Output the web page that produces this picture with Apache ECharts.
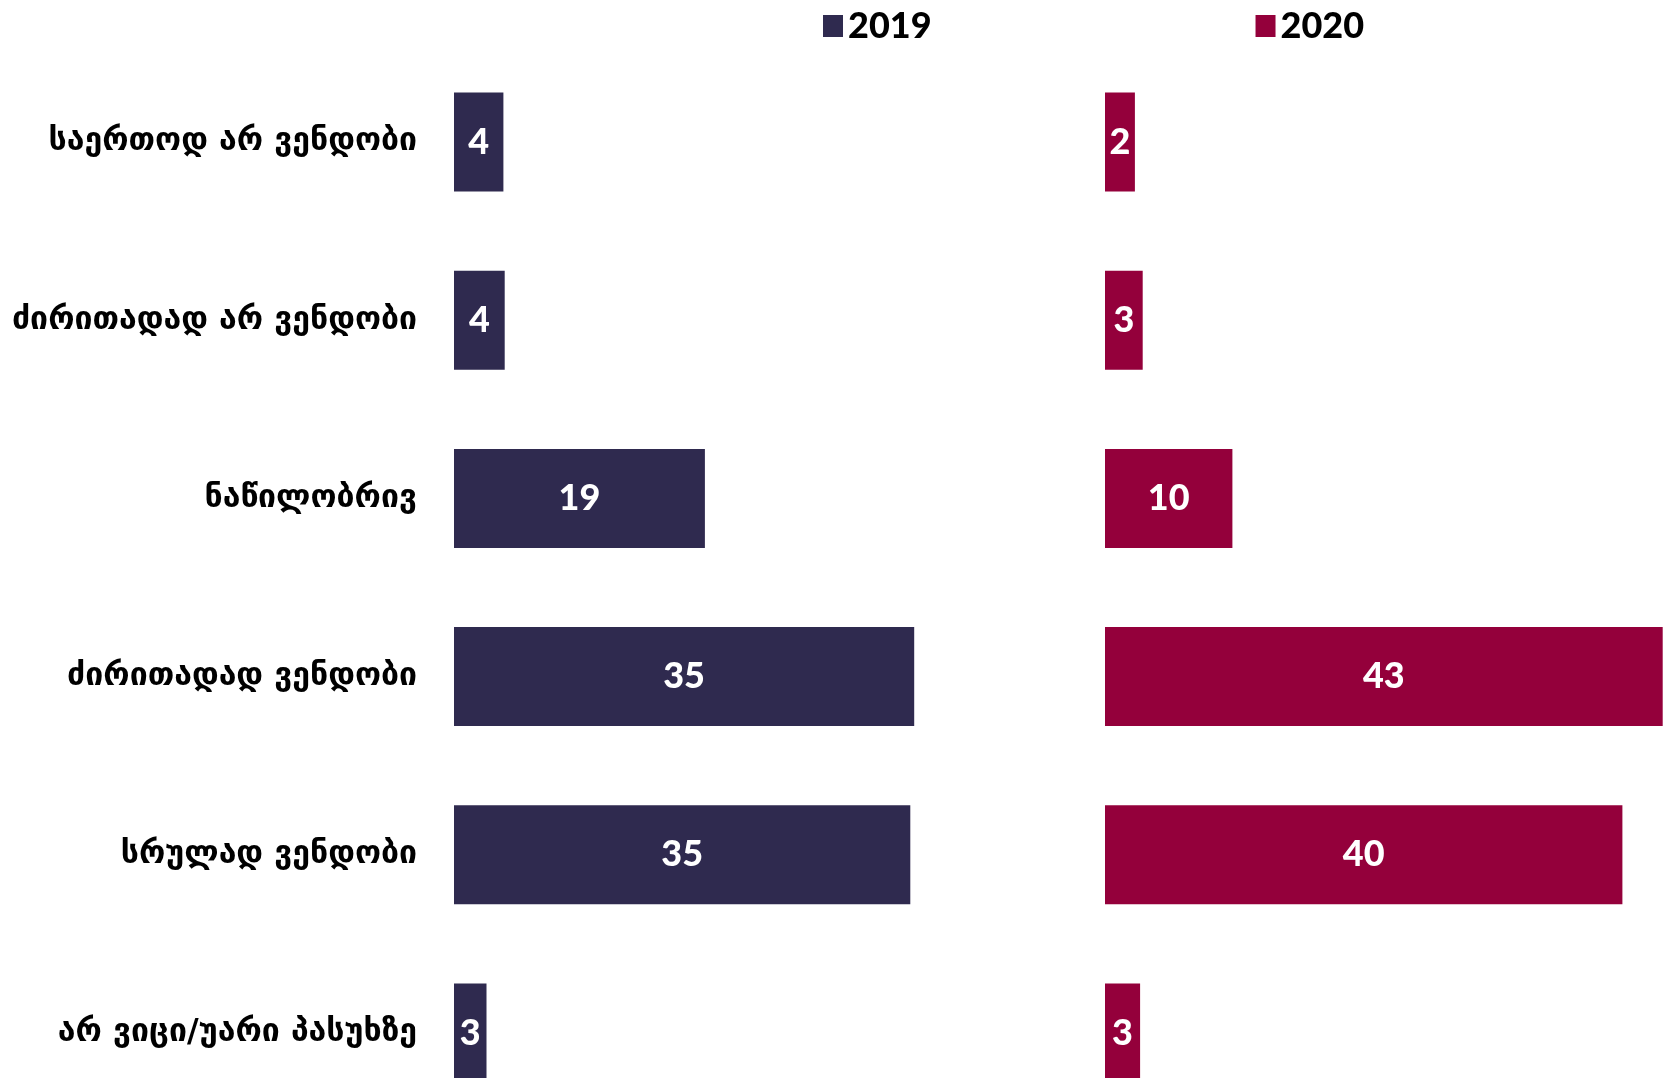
<!DOCTYPE html>
<html>
<head>
<meta charset="utf-8">
<script src="https://cdn.jsdelivr.net/npm/echarts@6/dist/echarts.min.js"></script>
<style>
  html, body { margin: 0; padding: 0; background: #fff; }
  #chart { width: 1675px; height: 1078px; }
</style>
</head>
<body>
<div id="chart"></div>
<script>
var categories = [
    'საერთოდ არ ვენდობი',
    'ძირითადად არ ვენდობი',
    'ნაწილობრივ',
    'ძირითადად ვენდობი',
    'სრულად ვენდობი',
    'არ ვიცი/უარი პასუხზე'
];
var values2019 = [3.8, 3.9, 19.3, 35.4, 35.1, 2.5];
var values2020 = [2.3, 2.9, 9.8, 42.9, 39.8, 2.7];

var colors = ['#2f2a4f', '#94003b'];

var labelOpt = {
    show: true,
    position: 'inside',
    color: '#fff',
    fontFamily: 'Lato',
    fontWeight: 900,
    fontSize: 36,
    formatter: function (p) { return Math.round(p.value); }
};

var myChart = echarts.init(document.getElementById('chart'));
var option = {
    animation: false,
    legend: {
        data: ['2019', '2020'],
        left: 818,
        top: 3,
        itemWidth: 20,
        itemHeight: 22,
        itemGap: 324,
        icon: 'rect',
        textStyle: {
            color: '#000',
            fontFamily: 'Lato',
            fontWeight: 900,
            fontSize: 36
        }
    },
    grid: [
        { left: 454, top: 53, width: 650, height: 1069, outerBoundsMode: 'none' },
        { left: 1105, top: 53, width: 572, height: 1069, outerBoundsMode: 'none' }
    ],
    xAxis: [
        { gridIndex: 0, type: 'value', min: 0, max: 50, show: false },
        { gridIndex: 1, type: 'value', min: 0, max: 44, show: false }
    ],
    yAxis: [
        {
            gridIndex: 0,
            type: 'category',
            inverse: true,
            data: categories,
            axisLine: { show: false },
            axisTick: { show: false },
            axisLabel: {
                margin: 37,
                color: '#000',
                fontFamily: 'DejaVu Sans',
                fontWeight: 'bold',
                fontSize: 32
            }
        },
        {
            gridIndex: 1,
            type: 'category',
            inverse: true,
            data: categories,
            show: false
        }
    ],
    series: [
        {
            name: '2019',
            type: 'bar',
            xAxisIndex: 0,
            yAxisIndex: 0,
            barWidth: '55.6%',
            itemStyle: { color: colors[0] },
            label: labelOpt,
            data: values2019
        },
        {
            name: '2020',
            type: 'bar',
            xAxisIndex: 1,
            yAxisIndex: 1,
            barWidth: '55.6%',
            itemStyle: { color: colors[1] },
            label: labelOpt,
            data: values2020
        }
    ]
};
myChart.setOption(option);
</script>
</body>
</html>
